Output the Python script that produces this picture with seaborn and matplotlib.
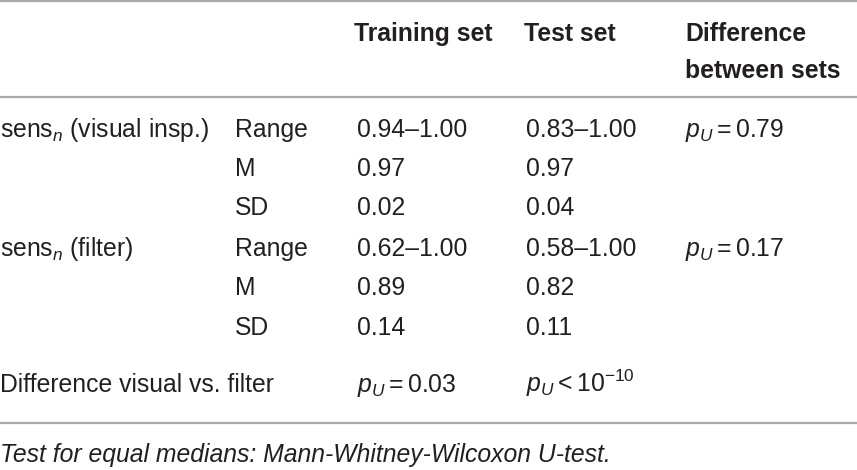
import matplotlib
matplotlib.use("Agg")
import matplotlib.pyplot as plt
import seaborn as sns

sns.set_style("white")
plt.rcParams['font.family'] = ['Liberation Sans', 'DejaVu Sans']
plt.rcParams['mathtext.fontset'] = 'custom'
plt.rcParams['mathtext.rm'] = 'Liberation Sans'
plt.rcParams['mathtext.it'] = 'Liberation Sans:italic'
plt.rcParams['mathtext.bf'] = 'Liberation Sans:bold'

TEXT = '#231f20'
RULE = '#a7a9ac'
FS = 17.8

# table content
header = ["Training set", "Test set"]
header_diff = ["Difference", "between sets"]
groups = [r"sens$_n$ (visual insp.)", r"sens$_n$ (filter)"]
stats = ["Range", "M", "SD"]
training = [["0.94–1.00", "0.97", "0.02"], ["0.62–1.00", "0.89", "0.14"]]
test = [["0.83–1.00", "0.97", "0.04"], ["0.58–1.00", "0.82", "0.11"]]
between = [r"$p_U{=}0.79$", r"$p_U{=}0.17$"]
diff_label = "Difference visual vs. filter"
diff_values = [r"$p_U{=}0.03$", r"$p_U{<}10^{-10}$"]
note = "Test for equal medians: Mann-Whitney-Wilcoxon U-test."

# layout (pixel coordinates, y down)
col_x = [0, 235, 357, 526, 685]
head_y = [41, 78]
row_y = [[137, 176, 215], [256, 295, 335]]
diff_y = 392
note_y = 462
rules = [1, 97, 423]

fig = plt.figure(figsize=(8.57, 4.70), dpi=100)
ax = fig.add_axes([0, 0, 1, 1])
ax.set_xlim(0, 857)
ax.set_ylim(470, 0)
ax.axis("off")

for y in rules:
    ax.axhline(y, color=RULE, lw=1.6)

kw = dict(fontsize=FS, color=TEXT, va="baseline", ha="left")

ax.text(col_x[2] - 3, head_y[0], header[0], fontweight="bold", **kw)
ax.text(col_x[3] - 2, head_y[0], header[1], fontweight="bold", **kw)
for y, s in zip(head_y, header_diff):
    ax.text(col_x[4], y, s, fontweight="bold", **kw)

for g in range(len(groups)):
    ax.text(col_x[0], row_y[g][0], groups[g], **kw)
    for r in range(len(stats)):
        y = row_y[g][r]
        ax.text(col_x[1], y, stats[r], **kw)
        ax.text(col_x[2], y, training[g][r], **kw)
        ax.text(col_x[3], y, test[g][r], **kw)
    ax.text(col_x[4], row_y[g][0], between[g], **kw)

ax.text(col_x[0], diff_y, diff_label, **kw)
ax.text(col_x[2], diff_y, diff_values[0], **kw)
ax.text(col_x[3], diff_y, diff_values[1], **kw)

ax.text(col_x[0], note_y, note, fontstyle="italic", **kw)

fig.savefig("out.png", dpi=100)
